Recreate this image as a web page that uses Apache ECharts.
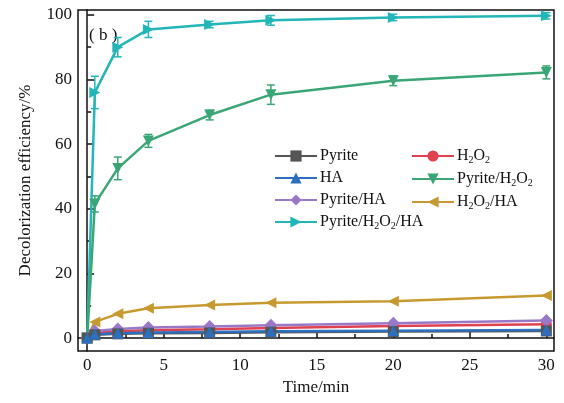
<!DOCTYPE html>
<html>
<head>
<meta charset="utf-8">
<script src="https://cdn.jsdelivr.net/npm/echarts@6/dist/echarts.min.js"></script>
<style>
  html, body { margin: 0; padding: 0; background: #fff; }
  #chart { width: 564px; height: 403px; }
</style>
</head>
<body>
<div id="chart"></div>
<script>
  // time points (min)
  var times = [0, 0.5, 2, 4, 8, 12, 20, 30];

  var pyrite      = [0, 1.0, 1.3, 1.5, 1.6, 1.8, 2.0, 2.2];
  var h2o2        = [0, 1.6, 2.1, 2.4, 2.7, 3.1, 3.7, 4.3];
  var ha          = [0, 1.2, 1.5, 1.7, 1.9, 2.1, 2.3, 2.5];
  var pyriteH2o2  = [0, 41.5, 52.5, 61, 69, 75.3, 79.6, 82.2];
  var pyriteHa    = [0, 2.2, 2.8, 3.3, 3.6, 4.0, 4.6, 5.4];
  var h2o2Ha      = [0, 5.0, 7.5, 9.2, 10.2, 10.9, 11.4, 13.2];
  var pyriteH2o2Ha = [0, 76, 90, 95.5, 97, 98.3, 99.2, 99.7];

  // error bar half-widths
  var errPyriteH2o2   = [0, 2.5, 3.5, 2, 1.5, 3, 1.5, 2];
  var errPyriteH2o2Ha = [0, 5, 3, 2.5, 1, 1.5, 1, 1];

  var xLabels = [0, 5, 10, 15, 20, 25, 30];
  var xMinor  = [2.5, 7.5, 12.5, 17.5, 22.5, 27.5];
  var yLabels = [0, 20, 40, 60, 80, 100];
  var yMinor  = [10, 30, 50, 70, 90];

  var font = 'Liberation Serif';

  function pairs(ys) {
    return times.map(function (t, i) { return [t, ys[i]]; });
  }
  function errData(ys, es) {
    return times.map(function (t, i) { return [t, ys[i] - es[i], ys[i] + es[i]]; });
  }

  function errSeries(ys, es, color) {
    return {
      type: 'custom',
      silent: true,
      z: 1,
      data: errData(ys, es),
      renderItem: function (params, api) {
        var lo = api.coord([api.value(0), api.value(1)]);
        var hi = api.coord([api.value(0), api.value(2)]);
        var w = 4;
        var st = { stroke: color, lineWidth: 1.5 };
        return {
          type: 'group',
          children: [
            { type: 'line', shape: { x1: lo[0], y1: lo[1], x2: hi[0], y2: hi[1] }, style: st },
            { type: 'line', shape: { x1: lo[0] - w, y1: lo[1], x2: lo[0] + w, y2: lo[1] }, style: st },
            { type: 'line', shape: { x1: hi[0] - w, y1: hi[1], x2: hi[0] + w, y2: hi[1] }, style: st }
          ]
        };
      }
    };
  }

  function lineSeries(name, ys, color, symbol, rotate) {
    return {
      name: name,
      type: 'line',
      data: pairs(ys),
      symbol: symbol,
      symbolSize: symbol === 'diamond' ? 13 : 11,
      symbolRotate: rotate || 0,
      showAllSymbol: true,
      lineStyle: { color: color, width: 2.5 },
      itemStyle: { color: color },
      z: 3
    };
  }

  // H2O2 -> H{s|2}O{s|2}
  function subFmt(name) {
    return name.split(/(\d)/).map(function (p) {
      if (p === '') return '';
      return /\d/.test(p) ? '{s|' + p + '}' : '{n|' + p + '}';
    }).join('');
  }

  var legendText = {
    fontFamily: font,
    fontSize: 16,
    color: '#111',
    padding: [0, 0, 0, -2],
    rich: {
      n: { fontFamily: font, fontSize: 16, color: '#111' },
      s: { fontFamily: font, fontSize: 10, color: '#111', padding: [8, 0, 0, 0] }
    }
  };

  var chart = echarts.init(document.getElementById('chart'));
  chart.setOption({
    animation: false,
    grid: {
      left: 78, right: 10, top: 10, bottom: 52,
      show: true, borderColor: '#111', borderWidth: 1.5
    },
    legend: [{
      data: ['Pyrite', 'HA', 'Pyrite/HA', 'Pyrite/H2O2/HA'],
      orient: 'vertical',
      left: 269, top: 143,
      itemWidth: 42, itemHeight: 14, itemGap: 6,
      formatter: subFmt,
      textStyle: legendText
    }, {
      data: ['H2O2', 'Pyrite/H2O2', 'H2O2/HA'],
      orient: 'vertical',
      left: 406, top: 143,
      itemWidth: 42, itemHeight: 14, itemGap: 6,
      formatter: subFmt,
      textStyle: legendText
    }],
    graphic: [{
      type: 'text', left: 89, top: 27, z: 0,
      style: { text: '( b )', fontFamily: font, fontSize: 17, fill: '#111' }
    }],
    xAxis: [{
      type: 'value', min: -0.6, max: 30.5,
      name: 'Time/min', nameLocation: 'middle', nameGap: 22,
      nameTextStyle: { fontFamily: font, fontSize: 17, color: '#111' },
      axisLine: { lineStyle: { color: '#111', width: 1.5 } },
      axisTick: { inside: true, length: 7, customValues: xLabels, lineStyle: { color: '#111', width: 1.5 } },
      axisLabel: { customValues: xLabels, fontFamily: font, fontSize: 17, color: '#111', margin: 6 },
      splitLine: { show: false }
    }, {
      type: 'value', min: -0.6, max: 30.5, position: 'bottom',
      axisLine: { show: false },
      axisTick: { inside: true, length: 4, customValues: xMinor, lineStyle: { color: '#111', width: 1.5 } },
      axisLabel: { show: false },
      splitLine: { show: false }
    }],
    yAxis: [{
      type: 'value', min: -4, max: 101.5,
      name: 'Decolorization efficiency/%', nameLocation: 'middle', nameGap: 44,
      nameTextStyle: { fontFamily: font, fontSize: 17, color: '#111' },
      axisLine: { show: true, lineStyle: { color: '#111', width: 1.5 } },
      axisTick: { show: true, inside: true, length: 7, customValues: yLabels, lineStyle: { color: '#111', width: 1.5 } },
      axisLabel: { customValues: yLabels, fontFamily: font, fontSize: 17, color: '#111', margin: 6 },
      splitLine: { show: false }
    }, {
      type: 'value', min: -4, max: 101.5, position: 'left',
      axisLine: { show: false },
      axisTick: { show: true, inside: true, length: 4, customValues: yMinor, lineStyle: { color: '#111', width: 1.5 } },
      axisLabel: { show: false },
      splitLine: { show: false }
    }],
    series: [
      errSeries(pyriteH2o2Ha, errPyriteH2o2Ha, '#22b6b8'),
      errSeries(pyriteH2o2, errPyriteH2o2, '#3aa676'),
      lineSeries('Pyrite/H2O2/HA', pyriteH2o2Ha, '#22b6b8', 'triangle', -90),
      lineSeries('Pyrite/H2O2', pyriteH2o2, '#3aa676', 'triangle', 180),
      lineSeries('H2O2/HA', h2o2Ha, '#c79a30', 'triangle', 90),
      lineSeries('H2O2', h2o2, '#e0414f', 'circle'),
      lineSeries('Pyrite/HA', pyriteHa, '#9a78c8', 'diamond'),
      lineSeries('Pyrite', pyrite, '#555555', 'rect'),
      lineSeries('HA', ha, '#2c6fbf', 'triangle')
    ]
  });
</script>
</body>
</html>
